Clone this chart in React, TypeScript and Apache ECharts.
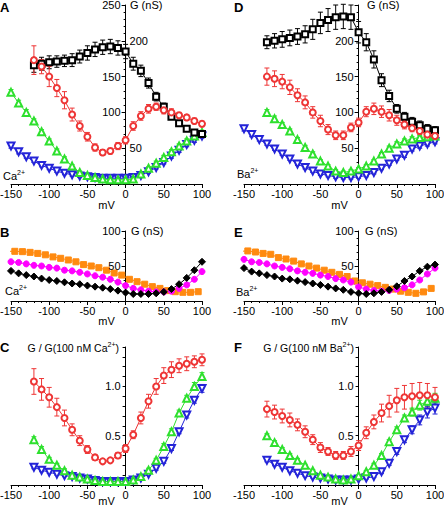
import React, { useEffect, useRef } from 'react';
import * as echarts from 'echarts';

// ---------- x values (mV) ----------
const V150 = [-150, -140, -130, -120, -110, -100, -90, -80, -70, -60, -50, -40, -30, -20, -10, 0, 10, 20, 30, 40, 50, 60, 70, 80, 90, 100];
const V120 = [-120, -110, -100, -90, -80, -70, -60, -50, -40, -30, -20, -10, 0, 10, 20, 30, 40, 50, 60, 70, 80, 90, 100];
const V155 = [-155, -145, -135, -125, -115, -105, -95, -85, -75, -65, -55, -45, -35, -25, -15, -5, 5, 15, 25, 35, 45, 55, 65, 75, 85, 95];

// ---------- Panel A (Ca2+), G (nS) ----------
const A_black = [166, 168, 170, 171, 172, 173, 178, 183, 188, 191, 192, 190, 185, 168, 158, 141, 122, 108, 94, 85, 77, 72, 70];
const A_blackErr = [10, 9, 9, 8, 8, 9, 9, 10, 10, 10, 10, 10, 10, 9, 8, 7, 6, 5, 4, 3, 3, 3, 3];
const A_red = [173, 164, 150, 134, 117, 97, 81, 66, 51, 44, 46, 53, 61, 81, 95, 105, 108, 103, 100, 96, 93, 88, 84];
const A_redErr = [20, 10, 14, 12, 12, 9, 7, 6, 5, 4, 4, 5, 5, 6, 6, 6, 5, 5, 5, 4, 4, 4, 4];
const A_green = [128, 113, 100, 88, 73, 60, 46, 35, 25, 16, 12, 9, 7, 6, 6, 6, 7, 14, 22, 29, 37, 45, 53, 60, 67, 72];
const A_greenErr = [4, 4, 4, 3, 3, 3, 3, 3, 2, 2, 2, 2, 2, 2, 2, 2, 2, 2, 2, 3, 3, 3, 3, 3, 3, 3];
const A_blue = [53, 45, 38, 32, 26, 22, 18, 15, 13, 11, 10, 9, 8, 8, 8, 8, 9, 12, 17, 23, 30, 39, 47, 55, 61, 67];
const A_blueErr = [3, 3, 2, 2, 2, 2, 2, 2, 2, 2, 2, 2, 2, 2, 2, 2, 2, 2, 2, 2, 2, 3, 3, 3, 3, 3];

// ---------- Panel D (Ba2+), G (nS) ----------
const D_black = [198, 200, 202, 204, 206, 209, 216, 225, 229, 233, 234, 233, 212, 198, 174, 145, 123, 105, 94, 87, 82, 77, 75];
const D_blackErr = [9, 10, 11, 11, 11, 12, 14, 15, 16, 17, 17, 17, 15, 12, 12, 9, 8, 6, 6, 6, 6, 6, 5];
const D_red = [150, 147, 143, 135, 124, 114, 100, 88, 76, 68, 68, 79, 86, 101, 105, 101, 96, 89, 83, 78, 74, 69, 67];
const D_redErr = [12, 11, 10, 10, 9, 9, 8, 8, 7, 6, 6, 6, 6, 7, 8, 8, 8, 7, 6, 5, 5, 5, 4];
const D_green = [100, 91, 83, 74, 62, 51, 42, 32, 25, 18, 16, 18, 21, 25, 32, 42, 50, 56, 60, 63, 65, 66, 67];
const D_greenErr = [4, 4, 3, 3, 3, 3, 3, 2, 2, 2, 2, 2, 2, 2, 2, 2, 3, 3, 3, 3, 3, 3, 3];
const D_blue = [77, 69, 62, 56, 49, 42, 35, 28, 23, 18, 14, 12, 10, 9, 9, 10, 12, 16, 22, 28, 35, 40, 49, 53, 56, 59];
const D_blueErr = [3, 3, 2, 2, 2, 2, 2, 2, 2, 2, 2, 2, 2, 2, 2, 2, 2, 2, 2, 2, 2, 3, 3, 3, 3, 3];

// ---------- Panel B (Ca2+), G (nS) ----------
const B_orange = [71, 71, 70.5, 69.5, 68, 66, 63, 61, 58.6, 56, 52, 50, 47.6, 44, 40, 37, 31, 27.6, 24, 20.5, 18, 14.8, 13.3, 12.4, 12.4, 13.3];
const B_magenta = [56, 55, 53, 51, 50, 48, 47, 44, 43, 41, 38.6, 36, 34, 31, 27, 22, 18, 16, 14, 13, 13, 14, 18, 23, 31, 42];
const B_black = [43, 39.5, 37, 35, 32, 30, 28.6, 26.7, 25, 24, 22, 20.5, 19, 17, 14.8, 12, 10, 10, 10, 11, 13, 17, 24, 33, 44, 56];

// ---------- Panel E (Ba2+), G (nS) ----------
const E_orange = [71, 71.5, 70, 68, 66.7, 62, 60, 57, 53, 50, 47, 44, 41, 38, 35, 28.6, 26, 24, 22, 19.5, 17, 14, 12.4, 11, 13, 18];
const E_magenta = [59.5, 56, 55, 53, 50, 48, 46, 43, 41, 39.5, 37, 35, 32, 30, 27, 20, 17, 15, 14, 15, 17, 19, 23, 30, 38.6, 47];
const E_black = [47, 42, 39.5, 37, 35, 32, 31, 29, 27, 25, 23, 20.5, 18, 16, 13, 11, 10, 11, 13, 16, 21, 28.6, 35, 43, 49, 52];

// ---------- Panel C (normalized, Ca2+) ----------
const C_red = [1.05, 0.97, 0.89, 0.79, 0.68, 0.56, 0.45, 0.36, 0.28, 0.24, 0.25, 0.30, 0.37, 0.51, 0.68, 0.85, 1.0, 1.11, 1.17, 1.21, 1.23, 1.25, 1.27];
const C_redErr = [0.13, 0.11, 0.1, 0.09, 0.08, 0.06, 0.05, 0.04, 0.03, 0.02, 0.02, 0.03, 0.04, 0.04, 0.06, 0.07, 0.08, 0.08, 0.08, 0.07, 0.07, 0.06, 0.06];
const C_green = [0.46, 0.36, 0.26, 0.2, 0.145, 0.1, 0.08, 0.06, 0.045, 0.035, 0.035, 0.035, 0.035, 0.05, 0.085, 0.15, 0.25, 0.39, 0.54, 0.73, 0.88, 1.0, 1.1];
const C_greenErr = [0.03, 0.03, 0.02, 0.02, 0.02, 0.01, 0.01, 0.01, 0.01, 0.01, 0.01, 0.01, 0.01, 0.01, 0.01, 0.02, 0.02, 0.03, 0.03, 0.03, 0.03, 0.04, 0.04];
const C_blue = [0.18, 0.15, 0.13, 0.11, 0.095, 0.085, 0.07, 0.06, 0.045, 0.035, 0.035, 0.035, 0.035, 0.05, 0.07, 0.11, 0.17, 0.24, 0.37, 0.54, 0.71, 0.86, 0.98];
const C_blueErr = [0.015, 0.015, 0.01, 0.01, 0.01, 0.01, 0.01, 0.01, 0.01, 0.01, 0.01, 0.01, 0.01, 0.01, 0.01, 0.01, 0.02, 0.02, 0.02, 0.02, 0.03, 0.03, 0.04];

// ---------- Panel F (normalized, Ba2+) ----------
const F_red = [0.77, 0.74, 0.7, 0.66, 0.61, 0.54, 0.46, 0.38, 0.34, 0.3, 0.3, 0.34, 0.4, 0.53, 0.64, 0.73, 0.8, 0.86, 0.89, 0.9, 0.91, 0.91, 0.89];
const F_redErr = [0.08, 0.07, 0.07, 0.07, 0.06, 0.06, 0.05, 0.05, 0.04, 0.04, 0.04, 0.05, 0.05, 0.06, 0.07, 0.09, 0.11, 0.12, 0.12, 0.13, 0.13, 0.12, 0.1];
const F_green = [0.5, 0.43, 0.36, 0.3, 0.25, 0.2, 0.145, 0.1, 0.08, 0.06, 0.05, 0.06, 0.095, 0.135, 0.2, 0.3, 0.44, 0.56, 0.68, 0.74, 0.81, 0.85, 0.88];
const F_greenErr = [0.02, 0.02, 0.02, 0.02, 0.02, 0.01, 0.01, 0.01, 0.01, 0.01, 0.01, 0.01, 0.01, 0.01, 0.02, 0.02, 0.02, 0.03, 0.03, 0.04, 0.05, 0.05, 0.05];
const F_blue = [0.25, 0.21, 0.18, 0.145, 0.12, 0.095, 0.08, 0.07, 0.06, 0.05, 0.05, 0.05, 0.06, 0.07, 0.085, 0.135, 0.22, 0.34, 0.46, 0.56, 0.66, 0.74, 0.78];
const F_blueErr = [0.015, 0.015, 0.01, 0.01, 0.01, 0.01, 0.01, 0.01, 0.01, 0.01, 0.01, 0.01, 0.01, 0.01, 0.01, 0.02, 0.02, 0.03, 0.03, 0.04, 0.05, 0.06, 0.06];

// ---------- axis tick labels ----------
const X_TICKS = [-150, -100, -50, 0, 50, 100];
const A_LEFT_LABELS = [100, 150, 250];
const A_RIGHT_LABELS = [50, 200];
const D_LABELS = [50, 100, 150, 200];
const BE_LABELS = [50, 100];
const CF_LABELS = [0.5, 1.0];

const X_MIN = -150;
const X_MAX = 100;
const PLOT_W = 191;
const ZERO_DX = ((0 - X_MIN) / (X_MAX - X_MIN)) * PLOT_W; // pixel distance from grid left to x = 0 mV

const BLACK = '#000000';
const RED = '#ee3535';
const GREEN = '#2ee02e';
const BLUE = '#2424d8';
const ORANGE = '#ff8a10';
const MAGENTA = '#ff00ff';
const FONT = 'Liberation Sans, Arial, Helvetica, sans-serif';

function zip(xs: number[], ys: number[]) {
  return ys.map((y, i) => [xs[i], y]);
}

function lineSeries(xs: number[], ys: number[], axis: number, color: string, symbol: string, size: number, rotate = 0) {
  return {
    type: 'line',
    xAxisIndex: axis,
    yAxisIndex: axis,
    data: zip(xs, ys),
    symbol,
    symbolSize: size,
    symbolRotate: rotate,
    showSymbol: true,
    lineStyle: { color, width: 1 },
    itemStyle: { color, borderColor: color, borderWidth: 1 },
    emphasis: { disabled: true },
    z: 3,
  };
}

function errSeries(xs: number[], ys: number[], errs: number[], axis: number, color: string) {
  return {
    type: 'custom',
    coordinateSystem: 'cartesian2d',
    xAxisIndex: axis,
    yAxisIndex: axis,
    data: ys.map((y, i) => [xs[i], y - errs[i], y + errs[i]]),
    encode: { x: 0, y: [1, 2] },
    z: 2,
    silent: true,
    renderItem: (params: any, api: any) => {
      const x = api.value(0);
      const p1 = api.coord([x, api.value(1)]);
      const p2 = api.coord([x, api.value(2)]);
      const w = 2.5;
      const st = { stroke: color, lineWidth: 1 };
      return {
        type: 'group',
        children: [
          { type: 'line', shape: { x1: p1[0], y1: p1[1], x2: p2[0], y2: p2[1] }, style: st },
          { type: 'line', shape: { x1: p1[0] - w, y1: p1[1], x2: p1[0] + w, y2: p1[1] }, style: st },
          { type: 'line', shape: { x1: p2[0] - w, y1: p2[1], x2: p2[0] + w, y2: p2[1] }, style: st },
        ],
      };
    },
  };
}

// visible x axis of a data grid
function xAxisDef(grid: number, nameGap: number) {
  return {
    type: 'value',
    gridIndex: grid,
    min: X_MIN,
    max: X_MAX,
    interval: 50,
    name: 'mV',
    nameLocation: 'middle',
    nameGap,
    nameMoveOverlap: false,
    nameTextStyle: { color: BLACK, fontSize: 11, fontFamily: FONT },
    axisLine: { show: true, onZero: false, lineStyle: { color: BLACK, width: 1 } },
    axisTick: { show: true, length: 4, lineStyle: { color: BLACK } },
    minorTick: { show: true, splitNumber: 5, length: 2, lineStyle: { color: BLACK } },
    splitLine: { show: false },
    minorSplitLine: { show: false },
    axisLabel: {
      color: BLACK,
      fontSize: 11,
      fontFamily: FONT,
      margin: 4,
      customValues: X_TICKS,
    },
  };
}

function hiddenXAxis(grid: number) {
  return { type: 'value', gridIndex: grid, min: 0, max: X_MAX, show: false };
}

function hiddenYAxis(grid: number, max: number) {
  return { type: 'value', gridIndex: grid, min: 0, max, show: false };
}

// visible y axis line + ticks on an axis-only grid whose left edge is x = 0 mV
function yAxisDef(grid: number, max: number, interval: number, minorSplit: number) {
  return {
    type: 'value',
    gridIndex: grid,
    min: 0,
    max,
    interval,
    position: 'left',
    axisLine: { show: true, onZero: false, lineStyle: { color: BLACK, width: 1 } },
    axisTick: { show: true, length: minorSplit > 0 ? 4 : 3, lineStyle: { color: BLACK } },
    minorTick: { show: minorSplit > 0, splitNumber: minorSplit || 5, length: 2, lineStyle: { color: BLACK } },
    splitLine: { show: false },
    minorSplitLine: { show: false },
    axisLabel: { show: false },
  };
}

function txt(x: number, y: number, text: string, extra: any = {}) {
  return {
    type: 'text',
    x,
    y,
    silent: true,
    z: 100,
    style: {
      text,
      fill: BLACK,
      fontSize: 11,
      fontFamily: FONT,
      textVerticalAlign: 'middle',
      ...extra,
    },
  };
}

function ionText(x: number, y: number, ion: string) {
  return {
    type: 'text',
    x,
    y,
    silent: true,
    z: 100,
    style: {
      text: `{b|${ion}}{s|2+}`,
      fill: BLACK,
      fontFamily: FONT,
      textVerticalAlign: 'middle',
      rich: {
        b: { fontSize: 11, fontFamily: FONT, fill: BLACK, lineHeight: 13, verticalAlign: 'bottom' },
        s: { fontSize: 7, fontFamily: FONT, fill: BLACK, lineHeight: 13, verticalAlign: 'top' },
      },
    },
  };
}

function titleText(xRight: number, y: number, ion: string) {
  return {
    type: 'text',
    x: xRight,
    y,
    silent: true,
    z: 100,
    style: {
      text: `{b|G / G(100 nM ${ion}}{s|2+}{b|)}`,
      fill: BLACK,
      fontFamily: FONT,
      textAlign: 'right',
      textVerticalAlign: 'middle',
      rich: {
        b: { fontSize: 10.5, fontFamily: FONT, fill: BLACK, lineHeight: 13, verticalAlign: 'bottom' },
        s: { fontSize: 7, fontFamily: FONT, fill: BLACK, lineHeight: 13, verticalAlign: 'top' },
      },
    },
  };
}

export default function App() {
  const ref = useRef<HTMLDivElement>(null);

  useEffect(() => {
    if (!ref.current) return;
    const chart = echarts.init(ref.current, undefined, { renderer: 'svg' });

    const panels = [
      { left: 11, top: 5, height: 179 }, // A
      { left: 244, top: 5, height: 179 }, // D
      { left: 11, top: 231, height: 70 }, // B
      { left: 244, top: 231, height: 70 }, // E
      { left: 11, top: 347, height: 138 }, // C
      { left: 244, top: 347, height: 138 }, // F
    ];
    const noBounds = { outerBoundsMode: 'none', containLabel: false };
    const dataGrids = panels.map((p) => ({ ...noBounds, left: p.left, top: p.top, width: PLOT_W, height: p.height }));
    const axisGrids = panels.map((p) => ({ ...noBounds, left: p.left + ZERO_DX, top: p.top, width: PLOT_W - ZERO_DX, height: p.height }));
    const maxes = [250, 250, 100, 100, 1.4, 1.4];
    const nameGaps = [15, 15, 14, 14, 10, 10];

    const series: any[] = [
      // A
      errSeries(V120, A_black, A_blackErr, 0, BLACK),
      errSeries(V120, A_red, A_redErr, 0, RED),
      errSeries(V150, A_green, A_greenErr, 0, GREEN),
      errSeries(V150, A_blue, A_blueErr, 0, BLUE),
      lineSeries(V150, A_blue, 0, BLUE, 'emptyTriangle', 7, 180),
      lineSeries(V150, A_green, 0, GREEN, 'emptyTriangle', 7),
      lineSeries(V120, A_black, 0, BLACK, 'emptyRect', 6),
      lineSeries(V120, A_red, 0, RED, 'emptyCircle', 6),
      // D
      errSeries(V120, D_black, D_blackErr, 1, BLACK),
      errSeries(V120, D_red, D_redErr, 1, RED),
      errSeries(V120, D_green, D_greenErr, 1, GREEN),
      errSeries(V150, D_blue, D_blueErr, 1, BLUE),
      lineSeries(V150, D_blue, 1, BLUE, 'emptyTriangle', 7, 180),
      lineSeries(V120, D_green, 1, GREEN, 'emptyTriangle', 7),
      lineSeries(V120, D_black, 1, BLACK, 'emptyRect', 6),
      lineSeries(V120, D_red, 1, RED, 'emptyCircle', 6),
      // B
      lineSeries(V155, B_orange, 2, ORANGE, 'rect', 6),
      lineSeries(V150, B_magenta, 2, MAGENTA, 'circle', 6),
      lineSeries(V150, B_black, 2, BLACK, 'diamond', 7),
      // E
      lineSeries(V155, E_orange, 3, ORANGE, 'rect', 6),
      lineSeries(V150, E_magenta, 3, MAGENTA, 'circle', 6),
      lineSeries(V150, E_black, 3, BLACK, 'diamond', 7),
      // C
      errSeries(V120, C_red, C_redErr, 4, RED),
      errSeries(V120, C_green, C_greenErr, 4, GREEN),
      errSeries(V120, C_blue, C_blueErr, 4, BLUE),
      lineSeries(V120, C_blue, 4, BLUE, 'emptyTriangle', 7, 180),
      lineSeries(V120, C_green, 4, GREEN, 'emptyTriangle', 7),
      lineSeries(V120, C_red, 4, RED, 'emptyCircle', 6),
      // F
      errSeries(V120, F_red, F_redErr, 5, RED),
      errSeries(V120, F_green, F_greenErr, 5, GREEN),
      errSeries(V120, F_blue, F_blueErr, 5, BLUE),
      lineSeries(V120, F_blue, 5, BLUE, 'emptyTriangle', 7, 180),
      lineSeries(V120, F_green, 5, GREEN, 'emptyTriangle', 7),
      lineSeries(V120, F_red, 5, RED, 'emptyCircle', 6),
    ];

    const baseGraphics: any[] = [
      txt(0, 7, 'A', { fontSize: 13, fontWeight: 'bold' }),
      txt(234, 7, 'D', { fontSize: 13, fontWeight: 'bold' }),
      txt(0, 232, 'B', { fontSize: 13, fontWeight: 'bold' }),
      txt(234, 232, 'E', { fontSize: 13, fontWeight: 'bold' }),
      txt(0, 347, 'C', { fontSize: 13, fontWeight: 'bold' }),
      txt(234, 347, 'F', { fontSize: 13, fontWeight: 'bold' }),
      txt(130, 5, 'G (nS)'),
      txt(367, 5, 'G (nS)'),
      txt(131, 231, 'G (nS)'),
      txt(365, 231, 'G (nS)'),
      ionText(3, 175, 'Ca'),
      ionText(237, 173, 'Ba'),
      ionText(5, 290, 'Ca'),
      ionText(236, 291, 'Ba'),
      titleText(119, 347, 'Ca'),
      titleText(354, 347, 'Ba'),
    ];

    const option: any = {
      animation: false,
      backgroundColor: '#ffffff',
      textStyle: { fontFamily: FONT },
      grid: [...dataGrids, ...axisGrids],
      xAxis: [
        ...[0, 1, 2, 3, 4, 5].map((g) => xAxisDef(g, nameGaps[g])),
        ...[6, 7, 8, 9, 10, 11].map((g) => hiddenXAxis(g)),
      ],
      yAxis: [
        ...[0, 1, 2, 3, 4, 5].map((g) => hiddenYAxis(g, maxes[g])),
        yAxisDef(6, 250, 50, 5),
        yAxisDef(7, 250, 50, 5),
        yAxisDef(8, 100, 50, 5),
        yAxisDef(9, 100, 50, 5),
        yAxisDef(10, 1.4, 0.1, 0),
        yAxisDef(11, 1.4, 0.1, 0),
      ],
      series,
    };

    chart.setOption(option);

    // y tick labels, placed through the charts' own scales (x = 0 mV, y = value)
    const labelSpecs = [
      { grid: 0, values: A_LEFT_LABELS, side: 'left', digits: 0 },
      { grid: 0, values: A_RIGHT_LABELS, side: 'right', digits: 0 },
      { grid: 1, values: D_LABELS, side: 'left', digits: 0 },
      { grid: 2, values: BE_LABELS, side: 'left', digits: 0 },
      { grid: 3, values: BE_LABELS, side: 'left', digits: 0 },
      { grid: 4, values: CF_LABELS, side: 'left', digits: 1 },
      { grid: 5, values: CF_LABELS, side: 'left', digits: 1 },
    ];
    const labelGraphics: any[] = [];
    labelSpecs.forEach((spec) => {
      spec.values.forEach((v) => {
        const p = chart.convertToPixel({ gridIndex: spec.grid } as any, [0, v]) as number[];
        if (!p) return;
        const left = spec.side === 'left';
        labelGraphics.push(
          txt(left ? p[0] - 5 : p[0] + 4, p[1], v.toFixed(spec.digits), { textAlign: left ? 'right' : 'left' })
        );
      });
    });

    chart.setOption({ graphic: [...baseGraphics, ...labelGraphics] });
    return () => chart.dispose();
  }, []);

  return (
    <div
      ref={ref}
      style={{ position: 'absolute', left: 0, top: 0, width: 444, height: 509, background: '#fff' }}
    />
  );
}
